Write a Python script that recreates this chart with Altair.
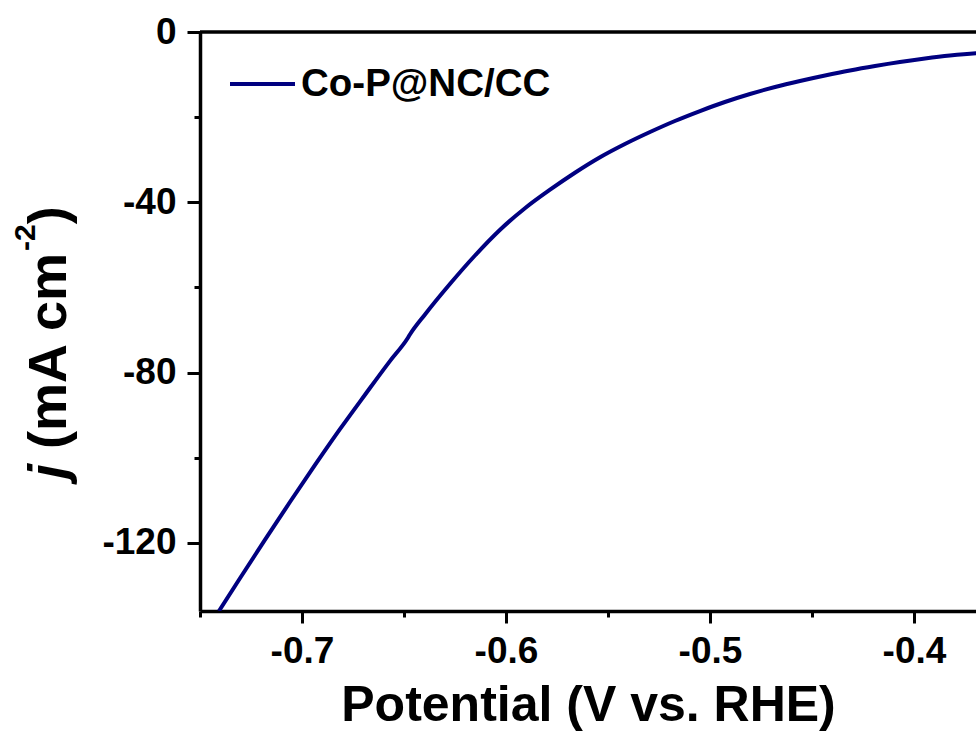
import altair as alt
import pandas as pd

# ---------------- data ----------------
SERIES = "Co-P@NC/CC"
POTENTIAL = [-0.7407, -0.7304, -0.7181, -0.7059, -0.6936, -0.6814, -0.6691,
             -0.6569, -0.6483, -0.6471, -0.6397, -0.6275, -0.6152, -0.6029,
             -0.5907, -0.5784, -0.5662, -0.5539, -0.5417, -0.5294, -0.5172,
             -0.5049, -0.4927, -0.4804, -0.4681, -0.4559, -0.4436, -0.4314,
             -0.4191, -0.4069, -0.3946, -0.3824, -0.3696, -0.3650]
CURRENT = [-136.0, -128.3, -119.25, -110.4, -101.7, -93.3, -85.2,
           -77.3, -71.99, -71.06, -66.35, -59.2, -52.5, -46.45,
           -41.4, -37.05, -33.06, -29.42, -26.31, -23.49, -20.9,
           -18.56, -16.44, -14.56, -12.92, -11.51, -10.22, -9.04,
           -7.99, -7.05, -6.22, -5.52, -4.98, -4.85]

X_TICKS = [-0.75, -0.7, -0.65, -0.6, -0.55, -0.5, -0.45, -0.4]
Y_TICKS = [0, -20, -40, -60, -80, -100, -120]
X_DOMAIN = [-0.75, -0.3696]
Y_DOMAIN = [-136, 0]
X_TITLE = "Potential (V vs. RHE)"
Y_TITLE_PARTS = ["j", "(mA cm", "-2", ")"]
LINE_COLOR = "#000080"
FONT = "Liberation Sans"

W, H = 776, 579

df = pd.DataFrame({"potential": POTENTIAL, "current": CURRENT, "series": SERIES})

x_major = "abs(round(datum.value*20)) % 2 === 0"
y_major = "datum.value % 40 === 0"

x_axis = alt.Axis(
    title=X_TITLE, values=X_TICKS, grid=False,
    labelExpr=f"{x_major} ? (datum.value < 0 ? '-' : '') + format(abs(datum.value), '.1f') : ''",
    tickSize={"condition": {"test": x_major, "value": 12}, "value": 6},
    labelBaseline="alphabetic", labelPadding=39,
    titleFontSize=50, titleY=109, titleBaseline="alphabetic",
)
y_axis = alt.Axis(
    title=None, values=Y_TICKS, grid=False,
    labelExpr=f"{y_major} ? (datum.value < 0 ? '-' : '') + abs(datum.value) : ''",
    tickSize={"condition": {"test": y_major, "value": 13}, "value": 6},
    labelPadding=11,
)

curve = alt.Chart(df).mark_line(clip=True, strokeWidth=4, interpolate="monotone").encode(
    x=alt.X("potential:Q", scale=alt.Scale(domain=X_DOMAIN, nice=False, zero=False), axis=x_axis),
    y=alt.Y("current:Q", scale=alt.Scale(domain=Y_DOMAIN, nice=False, zero=False), axis=y_axis),
    color=alt.Color(
        "series:N",
        scale=alt.Scale(domain=[SERIES], range=[LINE_COLOR]),
        legend=alt.Legend(
            title=None, orient="none", legendX=28, legendY=17.5,
            symbolType="stroke", symbolSize=4225, symbolStrokeWidth=4,
            labelFontSize=38.5, labelFont=FONT, labelFontWeight="bold",
            labelColor="black", labelOffset=4, padding=0, labelLimit=0,
        ),
    ),
    order=alt.Order("potential:Q"),
)

top_border = alt.Chart(pd.DataFrame({"a": [0]})).mark_rule(
    color="black", strokeWidth=3.5
).encode(x=alt.value(0), x2=alt.value(W + 10), y=alt.value(0))

# y-axis title built from styled pieces (italic j, superscript -2)
def title_piece(text, x, y, size, italic=False):
    return alt.Chart(pd.DataFrame({"t": [text]})).mark_text(
        angle=270, align="left", baseline="alphabetic", font=FONT,
        fontWeight="bold", fontStyle="italic" if italic else "normal",
        fontSize=size, color="black",
    ).encode(text="t:N", x=alt.value(x), y=alt.value(y))

FS = 54
ys = 479 - 32
w_j = 0.278 * FS
w_space = 0.278 * FS
w_main = 3.667 * FS
w_sup = 0.889 * 30
pieces = [
    title_piece(Y_TITLE_PARTS[0], -134, ys, FS, italic=True),
    title_piece(Y_TITLE_PARTS[1], -134, ys - w_j - w_space, FS),
    title_piece(Y_TITLE_PARTS[2], -165, ys - w_j - w_space - w_main, 30),
    title_piece(Y_TITLE_PARTS[3], -134, ys - w_j - w_space - w_main - w_sup, FS),
]

chart = alt.layer(curve, top_border, *pieces).properties(
    width=W, height=H,
    autosize=alt.AutoSizeParams(type="none"),
    padding={"left": 200, "top": 32, "right": 0, "bottom": 122},
    background="white",
).configure_view(stroke=None).configure_axis(
    labelFont=FONT, labelFontWeight="bold", labelFontSize=37, labelColor="black",
    titleFont=FONT, titleFontWeight="bold", titleColor="black",
    domainColor="black", domainWidth=3.5, tickColor="black", tickWidth=3,
)

chart.save("out.html", embed_options={"renderer": "svg", "actions": False})
